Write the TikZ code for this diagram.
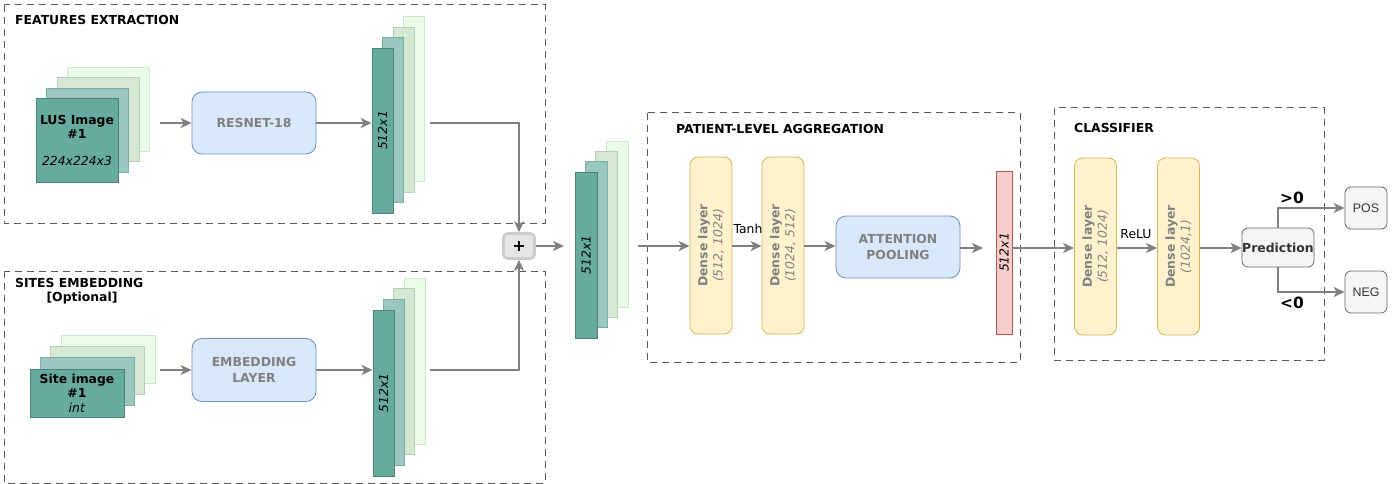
\documentclass[tikz,border=0pt]{standalone}
\usepackage{fontspec}
\setmainfont{DejaVu Sans}
\newfontfamily\arialf{Liberation Sans}
\usetikzlibrary{arrows.meta}
\definecolor{tealA}{HTML}{67AB9F}
\definecolor{tealAs}{HTML}{4A8277}
\definecolor{tealB}{HTML}{9AC7BF}
\definecolor{tealBs}{HTML}{7AAFA5}
\definecolor{grC}{HTML}{D5E8D4}
\definecolor{grCs}{HTML}{B5D0B3}
\definecolor{grD}{HTML}{E8FCE8}
\definecolor{grDs}{HTML}{CDE6CC}
\definecolor{blF}{HTML}{DAE8FC}
\definecolor{blS}{HTML}{6C8EBF}
\definecolor{yeF}{HTML}{FFF2CC}
\definecolor{yeS}{HTML}{D6B656}
\definecolor{reF}{HTML}{F8CECC}
\definecolor{reS}{HTML}{B85450}
\definecolor{gyF}{HTML}{F5F5F5}
\definecolor{gyS}{HTML}{666666}
\definecolor{txtg}{HTML}{808080}
\definecolor{arr}{HTML}{808080}
\begin{document}
\begin{tikzpicture}[x=1pt,y=-1pt,
  font=\fontsize{12.4}{14.5}\selectfont,
  frame/.style={draw=black!65, dash pattern=on 7pt off 5pt, line width=1pt},
  conn/.style={draw=arr, line width=2pt, -{Stealth[length=11pt,width=10pt,inset=3pt]}},
  lay1/.style={draw=tealAs, fill=tealA, inner sep=0pt, line width=0.8pt},
  lay2/.style={draw=tealBs, fill=tealB, inner sep=0pt, line width=0.8pt},
  lay3/.style={draw=grCs, fill=grC, inner sep=0pt, line width=0.8pt},
  lay4/.style={draw=grDs, fill=grD, inner sep=0pt, line width=0.8pt},
  bluebox/.style={draw=blS, fill=blF, rounded corners=10pt, line width=0.8pt, minimum width=124pt, minimum height=62pt, text=txtg, font=\fontsize{12.4}{16}\selectfont\bfseries, align=center},
  dense/.style={draw=yeS, fill=yeF, rounded corners=8pt, line width=0.8pt, rotate=90, minimum width=177pt, minimum height=42pt, inner sep=0pt, text=txtg, align=center, font=\fontsize{12.4}{15}\selectfont},
  graybox/.style={draw=gyS, fill=gyF, rounded corners=6pt, line width=0.8pt, inner sep=0pt},
  title/.style={anchor=west, inner sep=0pt, font=\fontsize{12.4}{14.5}\selectfont\bfseries},
  vec/.style={rotate=90, font=\fontsize{12.4}{14.5}\selectfont\itshape}
]
\useasboundingbox (0,0) rectangle (1398,484);

% ---------- frames ----------
\draw[frame] (4,5) rectangle (545,223);
\draw[frame] (4,271) rectangle (545,483);
\draw[frame] (647,113) rectangle (1020,362);
\draw[frame] (1054,108) rectangle (1324,360);

\node[title] (t1) at (15,20) {FEATURES EXTRACTION};
\node[title] (t2) at (15,283) {SITES EMBEDDING};
\node[inner sep=0pt, font=\fontsize{12.4}{14.5}\selectfont\bfseries] (t2b) at (82,298) {[Optional]};
\node[title] (t3) at (676,129) {PATIENT-LEVEL AGGREGATION};
\node[title] (t4) at (1074,128) {CLASSIFIER};

% ---------- LUS image stack ----------
\node[lay4, minimum width=82pt, minimum height=84pt] (lus4) at (108,109) {};
\node[lay3, minimum width=82pt, minimum height=84pt] (lus3) at (98,119.5) {};
\node[lay2, minimum width=82pt, minimum height=84pt] (lus2) at (87.5,130) {};
\node[lay1, minimum width=82pt, minimum height=84pt, align=center] (lus1) at (77,140)
  {\textbf{LUS Image}\\\textbf{\#1}\\[12pt]\textit{224x224x3}};

\node[bluebox] (resnet) at (254,123) {RESNET-18};

% features 512 stack
\node[lay4, minimum width=21pt, minimum height=165pt] (f4) at (414,99) {};
\node[lay3, minimum width=21pt, minimum height=165pt] (f3) at (403.5,109.5) {};
\node[lay2, minimum width=21pt, minimum height=165pt] (f2) at (393,120) {};
\node[lay1, minimum width=21pt, minimum height=165pt] (f1) at (382.5,130.5) {};
\node[vec] (f1t) at (f1.center) {512x1};

% ---------- Site image stack ----------
\node[lay4, minimum width=94pt, minimum height=48pt] (s4) at (108,359) {};
\node[lay3, minimum width=94pt, minimum height=48pt] (s3) at (97.6,370.4) {};
\node[lay2, minimum width=94pt, minimum height=48pt] (s2) at (87.3,381.7) {};
\node[lay1, minimum width=94pt, minimum height=48pt, align=center] (s1) at (77,393)
  {\textbf{Site image}\\\textbf{\#1}\\\textit{int}};

\node[bluebox, minimum height=63pt] (emb) at (254,370) {EMBEDDING\\LAYER};

\node[lay4, minimum width=21pt, minimum height=166pt] (e4) at (414.4,360.9) {};
\node[lay3, minimum width=21pt, minimum height=166pt] (e3) at (404.1,371.6) {};
\node[lay2, minimum width=21pt, minimum height=166pt] (e2) at (393.8,382.3) {};
\node[lay1, minimum width=21pt, minimum height=166pt] (e1) at (383.5,393) {};
\node[vec] (e1t) at (e1.center) {512x1};

% ---------- plus ----------
\node[draw=black!20, fill=black!10, line width=2.6pt, rounded corners=4pt, minimum width=31pt, minimum height=25pt, inner sep=0pt, font=\fontsize{16}{16}\selectfont\bfseries] (plus) at (519,246) {+};

% ---------- middle stack ----------
\node[lay4, minimum width=22pt, minimum height=166pt] (m4) at (617,224) {};
\node[lay3, minimum width=22pt, minimum height=166pt] (m3) at (606.6,234.4) {};
\node[lay2, minimum width=22pt, minimum height=166pt] (m2) at (596.3,244.7) {};
\node[lay1, minimum width=22pt, minimum height=166pt] (m1) at (586,255) {};
\node[vec] (m1t) at (m1.center) {512x1};

% ---------- patient-level ----------
\node[dense] (d1) at (711,245.5) {\textbf{Dense layer}\\\textit{(512, 1024)}};
\node[dense] (d2) at (783,245.5) {\textbf{Dense layer}\\\textit{(1024, 512)}};
\node[bluebox] (att) at (898,247) {ATTENTION\\POOLING};
\node[draw=reS, fill=reF, line width=0.8pt, minimum width=16pt, minimum height=163pt, inner sep=0pt] (v) at (1004,252.5) {};
\node[vec] (vt) at (v.center) {512x1};
\node[inner sep=0pt] (tanh) at (748,229) {Tanh};

% ---------- classifier ----------
\node[dense] (d3) at (1095.5,246.5) {\textbf{Dense layer}\\\textit{(512, 1024)}};
\node[dense] (d4) at (1178.5,246.5) {\textbf{Dense layer}\\\textit{(1024,1)}};
\node[inner sep=0pt] (relu) at (1136,234) {ReLU};
\node[graybox, minimum width=72pt, minimum height=39pt, text=black!80, font=\fontsize{12.4}{14}\selectfont\bfseries] (pred) at (1278,247.5) {Prediction};
\node[graybox, minimum width=42pt, minimum height=42pt, text=black!80, font=\arialf\fontsize{12.4}{14}\selectfont] (pos) at (1366,208) {POS};
\node[graybox, minimum width=42pt, minimum height=42pt, text=black!80, font=\arialf\fontsize{12.4}{14}\selectfont] (neg) at (1366,292) {NEG};
\node[inner sep=0pt, font=\fontsize{15.5}{16}\selectfont\bfseries] (gt) at (1292,198) {>0};
\node[inner sep=0pt, font=\fontsize{15.5}{16}\selectfont\bfseries] (lt) at (1292,303) {<0};

% ---------- connectors ----------
\coordinate (a1) at (160,123);
\coordinate (a2) at (160,370);
\coordinate (fo) at (430,123);
\coordinate (eo) at (430,370);
\coordinate (pe) at (564,246);
\coordinate (mo) at (638,246);
\coordinate (vi) at (983,248);

\draw[conn] (a1) -- (resnet.west);
\draw[conn] (resnet.east) -- (resnet.east -| f1.west);
\draw[conn] (a2) -- (emb.west);
\draw[conn] (emb.east) -- (emb.east -| e1.west);
\draw[conn] (fo) -| (plus.north);
\draw[conn] (eo) -| (plus.south);
\draw[conn] (plus.east) -- (pe);
\draw[conn] (mo) -- (mo -| d1.north);
\draw[conn] (d1.south |- mo) -- (mo -| d2.north);
\draw[conn] (d2.south |- mo) -- (mo -| att.west);
\draw[conn] (att.east |- vi) -- (vi);
\draw[conn] (v.east |- vi) -- (vi -| d3.north);
\draw[conn] (d3.south |- vi) -- (vi -| d4.north);
\draw[conn] (d4.south |- vi) -- (vi -| pred.west);
\draw[conn] (pred.north) |- (pos.west);
\draw[conn] (pred.south) |- (neg.west);
\end{tikzpicture}
\end{document}
